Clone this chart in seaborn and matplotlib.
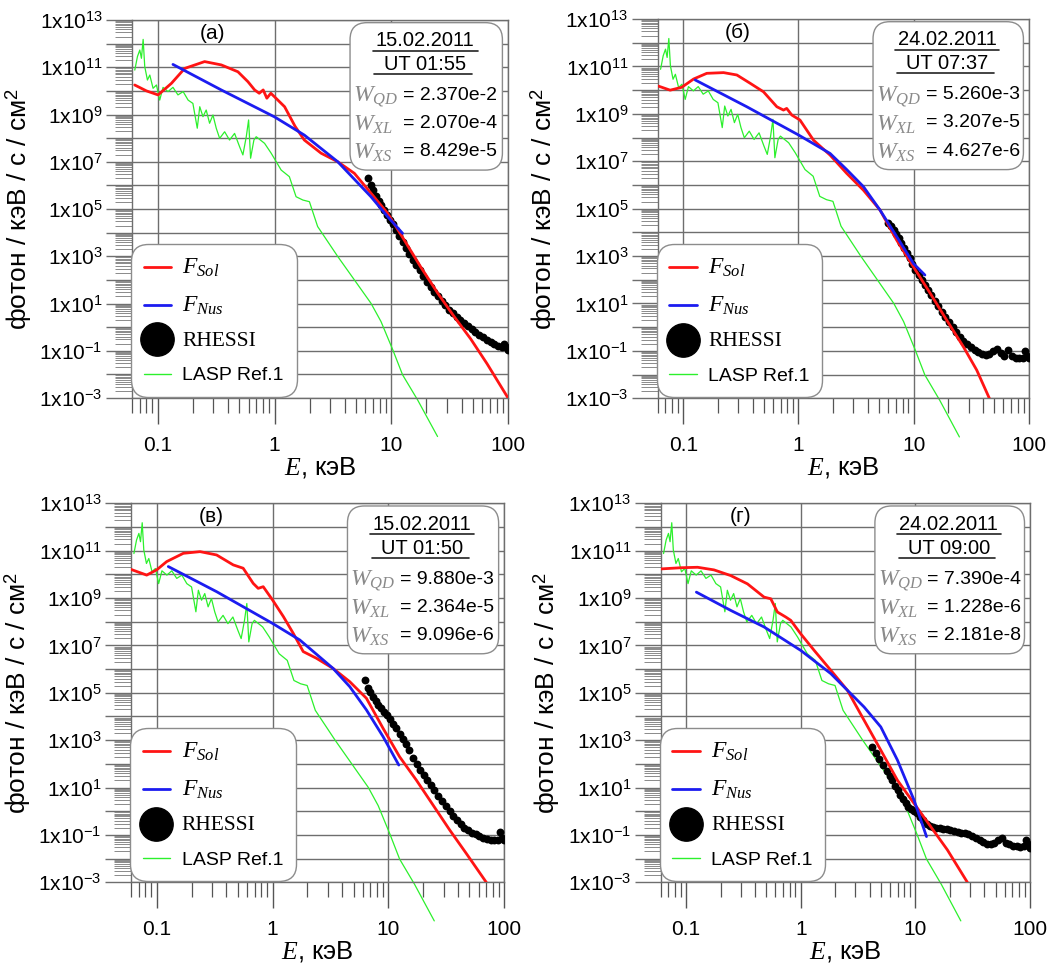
import numpy as np
import matplotlib
matplotlib.use("Agg")
import matplotlib.pyplot as plt
import matplotlib.ticker as mticker
import seaborn as sns
from matplotlib.lines import Line2D
from matplotlib.patches import FancyBboxPatch

# ============================================================================
# DATA (fluxes given as log10 of photon/keV/s/cm2)
# ============================================================================
# LASP reference spectrum, same in all four panels
lasp_e = [0.0636, 0.067, 0.0702, 0.0725, 0.075, 0.0774, 0.0816, 0.0855, 0.0912, 0.0975,
          0.104, 0.111, 0.1225, 0.135, 0.149, 0.165, 0.182, 0.2, 0.218, 0.229,
          0.244, 0.26, 0.278, 0.297, 0.317, 0.339, 0.374, 0.412, 0.455, 0.502,
          0.536, 0.573, 0.6, 0.624, 0.666, 0.697, 0.822, 0.937, 1.14, 1.34,
          1.53, 1.75, 1.99, 2.34, 3.48, 4.83, 6.7, 8.16, 10.3, 12.5, 16.8, 24.9]
lasp_lg = [10.88, 11.45, 11.73, 11.38, 12.18, 11.03, 10.46, 10.67, 10.11, 10.25,
           9.61, 10.15, 9.97, 10.15, 9.83, 9.97, 9.61, 9.47, 8.42, 9.33,
           8.91, 9.19, 8.63, 8.98, 8.42, 7.99, 8.27, 7.92, 8.2, 7.64,
           7.29, 8.06, 8.77, 7.15, 7.92, 8.06, 7.78, 7.36, 6.65, 6.37,
           5.52, 5.38, 5.31, 4.26, 2.99, 2.0, 1.01, 0.24, -0.96, -2.02, -3.08, -4.63]

# F_Sol
sol_a_e = [0.0635, 0.08, 0.1007, 0.131, 0.17, 0.252, 0.35, 0.486, 0.592, 0.676,
           0.74, 0.80, 0.86, 0.93, 1.0, 1.22, 1.50, 1.80, 2.51, 3.48,
           4.83, 6.70, 9.31, 12.9, 17.8, 24.9, 34.5, 47.9, 66.1, 100]
sol_a_lg = [10.25, 10.0, 9.83, 10.32, 10.95, 11.24, 11.1, 10.81, 10.39, 10.04,
            9.90, 10.04, 9.69, 9.90, 9.75, 9.33, 8.5, 7.92, 7.36, 7.0,
            6.51, 5.67, 4.82, 3.69, 2.56, 1.45, 0.45, -0.5, -1.55, -3.0]
sol_b_e = [0.061, 0.077, 0.097, 0.123, 0.16, 0.224, 0.292, 0.381, 0.497, 0.649,
           0.741, 0.79, 0.875, 1.03, 1.35, 1.88, 2.62, 3.66, 5.1, 7.12,
           9.93, 13.9, 19.3, 27.0, 35.2, 45.3]
sol_b_lg = [10.17, 10.0, 10.12, 10.47, 10.71, 10.74, 10.64, 10.29, 9.93, 9.30,
            9.16, 9.23, 8.95, 8.74, 7.89, 7.26, 6.49, 5.78, 4.94, 3.67,
            2.55, 1.43, 0.30, -0.83, -1.81, -3.0]
sol_c_e = [0.060, 0.082, 0.1, 0.122, 0.17, 0.237, 0.329, 0.458, 0.558, 0.681,
           0.752, 0.831, 1.0, 1.24, 1.51, 1.84, 2.39, 3.33, 4.64, 6.46,
           9.0, 12.5, 17.4, 24.3, 33.8, 47.0, 70.0]
sol_c_lg = [10.21, 9.97, 10.19, 10.54, 10.89, 10.96, 10.82, 10.40, 10.26, 9.62,
            9.41, 9.48, 8.92, 8.22, 7.51, 6.74, 6.46, 6.03, 5.47, 4.77,
            3.50, 2.30, 1.32, 0.26, -0.79, -1.78, -3.0]
sol_d_e = [0.060, 0.0898, 0.126, 0.175, 0.245, 0.343, 0.479, 0.548, 0.626, 0.74,
           0.818, 1.0, 1.31, 1.83, 2.55, 3.57, 4.99, 6.97, 9.73, 13.6, 19.0, 28.4]
sol_d_lg = [10.23, 10.28, 10.30, 10.19, 9.95, 9.60, 9.04, 8.97, 8.41, 8.20,
            8.06, 7.49, 6.79, 5.95, 5.11, 3.84, 2.58, 1.31, 0.33, -0.65, -1.63, -3.0]

# F_Nus
nus_a_e = [0.135, 0.35, 1.0, 1.8, 3.48, 6.7, 9.3, 12.5]
nus_a_lg = [11.12, 10.04, 8.9, 8.13, 7.0, 5.52, 4.68, 3.97]
nus_b_e = [0.127, 0.356, 1.0, 1.88, 2.62, 3.66, 5.1, 7.12, 9.93, 12.5]
nus_b_lg = [10.43, 9.30, 8.11, 7.33, 6.65, 5.93, 4.94, 3.82, 2.69, 2.2]
nus_c_e = [0.126, 0.329, 1.0, 1.72, 3.33, 4.64, 6.46, 9.0, 12.3]
nus_c_lg = [10.33, 9.27, 7.93, 7.23, 6.03, 5.26, 4.28, 3.15, 1.95]
nus_d_e = [0.123, 0.245, 0.479, 1.0, 1.83, 3.57, 4.99, 6.97, 9.73, 12.5]
nus_d_lg = [9.25, 8.48, 7.78, 6.79, 5.81, 4.40, 3.56, 2.16, 0.47, -1.07]

# RHESSI energy bins (keV) and per-panel fluxes (nan = no point)
nan = float("nan")
rhessi_e = [4.2, 4.5, 4.8, 5.2, 5.6, 6.0, 6.3, 6.7, 7.0, 7.4,
            7.8, 8.2, 8.7, 9.2, 9.7, 10.3, 11.0, 11.7, 12.5, 13.3,
            14.2, 15.2, 16.3, 17.5, 18.8, 20.2, 21.7, 23.3, 25.0, 27.0,
            29.0, 31.3, 33.7, 36.3, 39.0, 42.0, 45.3, 48.8, 52.6, 56.7,
            61.1, 65.8, 70.9, 76.4, 82.3, 88.7, 92.0, 95.5, 100.0]
rhessi_a_lg = [nan, nan, nan, nan, nan, nan, 6.30, 6.02, 5.80, 5.55,
               5.35, 5.15, 4.95, 4.75, 4.55, 4.35, 4.10, 3.85, 3.60, 3.36,
               3.10, 2.86, 2.62, 2.40, 2.17, 1.93, 1.70, 1.50, 1.32, 1.10,
               0.92, 0.74, 0.58, 0.44, 0.32, 0.18, 0.05, -0.08, -0.20, -0.32,
               -0.43, -0.53, -0.62, -0.70, -0.78, -0.84, -0.70, -0.85, -0.98]
rhessi_b_lg = [nan, nan, nan, nan, nan, 4.40, 4.25, 4.08, 3.92, 3.75,
               3.55, 3.35, 3.12, 2.90, 2.68, 2.42, 2.20, 2.00, 1.78, 1.57,
               1.35, 1.12, 0.88, 0.65, 0.42, 0.20, 0.00, -0.22, -0.40, -0.58,
               -0.72, -0.85, -0.96, -1.05, -1.12, -1.17, -1.12, -1.00, -0.92, -1.10,
               -1.20, -0.98, -1.22, -1.30, -1.32, -1.30, -1.00, -1.20, -1.32]
rhessi_c_lg = [nan, nan, nan, nan, nan, nan, 5.54, 5.19, 5.02, 4.82,
               4.65, 4.50, 4.35, 4.20, 4.06, 3.90, 3.70, 3.50, 3.28, 3.06,
               2.84, 2.58, 2.25, 2.00, 1.76, 1.54, 1.32, 1.10, 0.88, 0.65,
               0.44, 0.22, 0.00, -0.20, -0.38, -0.55, -0.70, -0.80, -0.90, -0.98,
               -1.06, -1.12, -1.18, -1.20, -1.22, -1.20, -0.88, -1.15, -1.20]
rhessi_d_lg = [2.72, 2.45, 2.20, 1.95, 1.70, 1.50, 1.32, 1.08, 0.90, 0.68,
               0.50, 0.35, 0.18, 0.08, 0.00, -0.08, -0.25, -0.38, -0.55, -0.62,
               -0.66, -0.70, -0.72, -0.74, -0.77, -0.79, -0.82, -0.86, -0.90, -0.93,
               -0.98, -1.04, -1.12, -1.22, -1.32, -1.40, -1.38, -1.35, -1.20, -1.15,
               -1.35, -1.40, -1.45, -1.46, -1.50, -1.45, -1.20, -1.40, -1.55]

panel_tags = ["(а)", "(б)", "(в)", "(г)"]
dates = ["15.02.2011", "24.02.2011", "15.02.2011", "24.02.2011"]
times = ["UT 01:55", "UT 07:37", "UT 01:50", "UT 09:00"]
w_names = ["QD", "XL", "XS"]
w_values = [["2.370e-2", "2.070e-4", "8.429e-5"],
            ["5.260e-3", "3.207e-5", "4.627e-6"],
            ["9.880e-3", "2.364e-5", "9.096e-6"],
            ["7.390e-4", "1.228e-6", "2.181e-8"]]
xtick_vals = [0.1, 1, 10, 100]
xtick_labels = ["0.1", "1", "10", "100"]

# ============================================================================
# STYLE
# ============================================================================
sns.set_theme(style="white")
plt.rcParams.update({
    "font.family": ["Liberation Sans", "DejaVu Sans"],
    "mathtext.fontset": "custom",
    "mathtext.rm": "Liberation Sans",
    "mathtext.it": "Liberation Serif:italic",
    "mathtext.bf": "Liberation Sans:bold",
    "text.color": "black",
    "axes.labelcolor": "black",
})

C_RED = "#ff1414"
C_BLUE = "#1c1cf0"
C_GREEN = "#2cf02c"
C_GRID = "#6e6e6e"

fig = plt.figure(figsize=(10.64, 9.67), dpi=100)
positions = [
    [0.1239, 0.5884, 0.3536, 0.3909],
    [0.6181, 0.5881, 0.3490, 0.3922],
    [0.1231, 0.0876, 0.3508, 0.3919],
    [0.6209, 0.0876, 0.3472, 0.3919],
]
sol_sets = [(sol_a_e, sol_a_lg), (sol_b_e, sol_b_lg), (sol_c_e, sol_c_lg), (sol_d_e, sol_d_lg)]
nus_sets = [(nus_a_e, nus_a_lg), (nus_b_e, nus_b_lg), (nus_c_e, nus_c_lg), (nus_d_e, nus_d_lg)]
rhessi_sets = [rhessi_a_lg, rhessi_b_lg, rhessi_c_lg, rhessi_d_lg]


def ytick_fmt(v, pos):
    p = int(round(np.log10(v)))
    return r"$\mathregular{1x10^{%d}}$" % p if p % 2 else ""


for i in range(4):
    ax = fig.add_axes(positions[i])
    ax.set_xscale("log")
    ax.set_yscale("log")

    # LASP reference (runs out below the axis, as in the original)
    sns.lineplot(x=lasp_e, y=10 ** np.array(lasp_lg), ax=ax, color=C_GREEN, lw=0.9,
                 sort=False, estimator=None, clip_on=False, zorder=2)
    # RHESSI points
    sns.scatterplot(x=rhessi_e, y=10 ** np.array(rhessi_sets[i]), ax=ax, color="black",
                    s=32, linewidth=0, zorder=3)
    # model fluxes
    sns.lineplot(x=sol_sets[i][0], y=10 ** np.array(sol_sets[i][1]), ax=ax, color=C_RED,
                 lw=2.0, sort=False, estimator=None, zorder=4)
    sns.lineplot(x=nus_sets[i][0], y=10 ** np.array(nus_sets[i][1]), ax=ax, color=C_BLUE,
                 lw=2.0, sort=False, estimator=None, zorder=4)

    ax.set_xlim(0.06, 100)
    ax.set_ylim(1e-3, 1e13)
    ax.yaxis.set_major_locator(mticker.LogLocator(base=10, numticks=40))
    ax.yaxis.set_minor_locator(mticker.LogLocator(base=10, subs=np.arange(2, 10), numticks=40))
    ax.yaxis.set_major_formatter(mticker.FuncFormatter(ytick_fmt))
    ax.yaxis.set_minor_formatter(mticker.NullFormatter())
    ax.xaxis.set_major_locator(mticker.FixedLocator(xtick_vals))
    ax.xaxis.set_major_formatter(mticker.FixedFormatter(xtick_labels))
    ax.xaxis.set_minor_locator(mticker.LogLocator(base=10, subs=np.arange(2, 10), numticks=40))
    ax.xaxis.set_minor_formatter(mticker.NullFormatter())

    ax.grid(True, which="major", color=C_GRID, lw=1.0)
    ax.grid(False, which="minor")
    ax.tick_params(axis="y", which="major", direction="out", length=19, width=1.0,
                   color=C_GRID, pad=2, labelsize=15, labelcolor="black", left=True)
    ax.tick_params(axis="y", which="minor", direction="out", length=12, width=0.7,
                   color="#8a8a8a", left=True)
    ax.tick_params(axis="x", which="major", direction="out", length=19, width=1.0,
                   color="#555555", pad=8, labelsize=15, labelcolor="black", bottom=True)
    ax.tick_params(axis="x", which="minor", direction="out", length=11, width=0.9,
                   color="#555555", bottom=True)
    for sp in ax.spines.values():
        sp.set_color(C_GRID)
        sp.set_linewidth(1.0)

    ax.set_xlabel(r"$E$, кэВ", fontsize=18.5, labelpad=0)
    ax.set_ylabel(r"фотон / кэВ / с / см$^{\mathregular{2}}$", fontsize=19, labelpad=4)

    ax.text(0.215, 0.965, panel_tags[i], transform=ax.transAxes, ha="center", va="center",
            fontsize=15)

    # info box
    box = FancyBboxPatch((0.58, 0.603), 0.405, 0.39, transform=ax.transAxes,
                         boxstyle="round,pad=0,rounding_size=0.045",
                         fc="white", ec="#8c8c8c", lw=1.0, zorder=6)
    ax.add_patch(box)
    ax.text(0.78, 0.945, dates[i], transform=ax.transAxes, ha="center", va="center",
            fontsize=14.5, zorder=7)
    ax.plot([0.64, 0.92], [0.919, 0.919], transform=ax.transAxes, color="#222222",
            lw=1.2, zorder=7)
    ax.text(0.78, 0.882, times[i], transform=ax.transAxes, ha="center", va="center",
            fontsize=14.5, zorder=7)
    ax.plot([0.645, 0.905], [0.857, 0.857], transform=ax.transAxes, color="#222222",
            lw=1.2, zorder=7)
    for k, yy in enumerate([0.796, 0.722, 0.648]):
        ax.text(0.588, yy, r"$W_{%s}$" % w_names[k], transform=ax.transAxes, ha="left",
                va="center", fontsize=17, color="#8a8a8a", zorder=7)
        ax.text(0.722, yy + 0.004, "= " + w_values[i][k], transform=ax.transAxes, ha="left",
                va="center", fontsize=14, zorder=7)

    handles = [Line2D([], [], color=C_RED, lw=2.0),
               Line2D([], [], color=C_BLUE, lw=2.0),
               Line2D([], [], ls="none", marker="o", ms=24, color="black"),
               Line2D([], [], color=C_GREEN, lw=1.0)]
    labels = [r"$F_{Sol}$", r"$F_{Nus}$", "RHESSI", "LASP Ref.1"]
    leg = ax.legend(handles, labels, loc="lower left", bbox_to_anchor=(0.008, 0.013),
                    borderaxespad=0, fontsize=14, handlelength=1.4, handletextpad=0.6,
                    labelspacing=0.8, borderpad=0.45, frameon=True, fancybox=True)
    leg.get_frame().set_edgecolor("#8c8c8c")
    leg.get_frame().set_linewidth(1.0)
    leg.get_frame().set_alpha(1.0)
    leg.get_frame().set_boxstyle("round,pad=0.2,rounding_size=0.9")
    leg.get_texts()[0].set_fontsize(17)
    leg.get_texts()[1].set_fontsize(17)
    leg.get_texts()[2].set_fontfamily("Liberation Serif")
    leg.get_texts()[2].set_fontsize(15.5)
    leg.set_zorder(8)

fig.savefig("out.png", dpi=100)
